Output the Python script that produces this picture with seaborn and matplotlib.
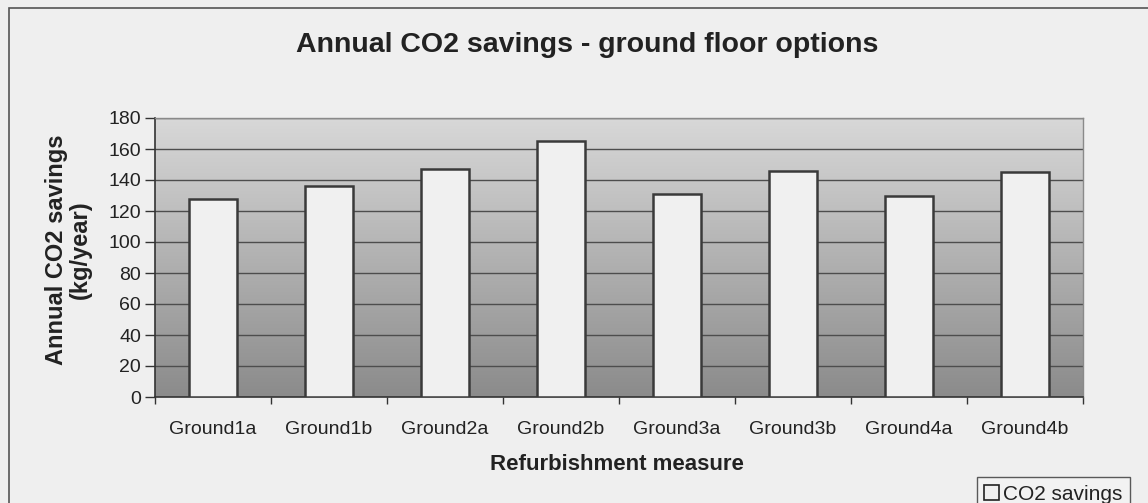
import numpy as np
import pandas as pd
import matplotlib
matplotlib.use("Agg")
import matplotlib.pyplot as plt
from matplotlib.patches import Rectangle
from matplotlib.colors import LinearSegmentedColormap
import seaborn as sns

# Annual CO2 savings per refurbishment option (kg/year)
measures = ["Ground1a", "Ground1b", "Ground2a", "Ground2b",
            "Ground3a", "Ground3b", "Ground4a", "Ground4b"]
savings = [128, 136, 147, 165, 131, 146, 130, 145]
y_ticks = [0, 20, 40, 60, 80, 100, 120, 140, 160, 180]

df = pd.DataFrame({"measure": measures, "savings": savings})

sns.set_theme(style="white")
plt.rcParams["font.family"] = ["Liberation Sans", "DejaVu Sans"]

TXT = "#222222"
W, H = 1148, 503
fig = plt.figure(figsize=(W / 100, H / 100), dpi=100)
fig.patch.set_facecolor("#efefef")

# plot area placed in pixel terms
left, right, top, bottom = 155, 1083, 118, 397
ax = fig.add_axes([left / W, 1 - bottom / H, (right - left) / W, (bottom - top) / H])

# vertical grey gradient behind the bars
grad = np.linspace(0, 1, 256).reshape(-1, 1)
ax.imshow(grad, extent=[0, 1, 0, 1], transform=ax.transAxes, aspect="auto",
          cmap=LinearSegmentedColormap.from_list("bg", ["#8b8b8b", "#d8d8d8"]),
          origin="lower", zorder=0)

sns.barplot(data=df, x="measure", y="savings", ax=ax, color="#f0f0f0",
            edgecolor="#3a3a3a", linewidth=1.8, width=0.42, saturation=1,
            zorder=3)

ax.set_xlim(-0.5, len(measures) - 0.5)
ax.set_ylim(0, 180)
ax.set_yticks(y_ticks)
for y in y_ticks[1:]:
    ax.axhline(y, color="#4d4d4d", linewidth=1.0, zorder=1)

# y ticks outward on every gridline, x ticks at category boundaries
ax.tick_params(axis="y", which="major", direction="out", length=7, width=1,
               color="#333333", labelsize=14, labelcolor=TXT, pad=3, left=True)
ax.set_xticks(range(len(measures)))
ax.set_xticklabels(measures)
ax.tick_params(axis="x", which="major", length=0, labelsize=14,
               labelcolor=TXT, pad=17)
ax.set_xticks(np.arange(-0.5, len(measures)), minor=True)
ax.tick_params(axis="x", which="minor", direction="out", length=5, width=1,
               color="#333333", bottom=True)

for side in ["left", "bottom"]:
    ax.spines[side].set_color("#333333")
    ax.spines[side].set_linewidth(1.2)
for side in ["top", "right"]:
    ax.spines[side].set_color("#8a8a8a")
    ax.spines[side].set_linewidth(1.0)

ax.set_xlabel("")
ax.set_ylabel("")
fig.text(617 / W, 1 - 465 / H, "Refurbishment measure", ha="center", va="center",
         fontsize=16, fontweight="bold", color=TXT)
fig.text(68 / W, 1 - 250 / H, "Annual CO2 savings\n(kg/year)", ha="center",
         va="center", rotation=90, multialignment="center", fontsize=17,
         fontweight="bold", color=TXT, linespacing=1.05)
fig.text(587 / W, 1 - 45 / H, "Annual CO2 savings - ground floor options",
         ha="center", va="center", fontsize=20.5, fontweight="bold", color=TXT)

# chart frame
fig.patches.append(Rectangle((9 / W, -0.1), 1.2, 1 - 8 / H + 0.1,
                             transform=fig.transFigure, fill=False,
                             edgecolor="#555555", linewidth=1.2, zorder=0))

# legend box
handle = Rectangle((0, 0), 1, 1, facecolor="#f0f0f0", edgecolor="#222222", linewidth=1.2)
leg = fig.legend([handle], ["CO2 savings"], loc="lower left",
                 bbox_to_anchor=(977 / W, -8 / H), frameon=True, fontsize=15,
                 handlelength=0.7, handleheight=0.7, handletextpad=0.2,
                 borderpad=0.35, fancybox=False, borderaxespad=0)
for t in leg.get_texts():
    t.set_color(TXT)
leg.get_frame().set_edgecolor("#333333")
leg.get_frame().set_facecolor("#f4f4f4")
leg.get_frame().set_linewidth(1.0)

fig.savefig("out.png", dpi=100, facecolor=fig.get_facecolor())
